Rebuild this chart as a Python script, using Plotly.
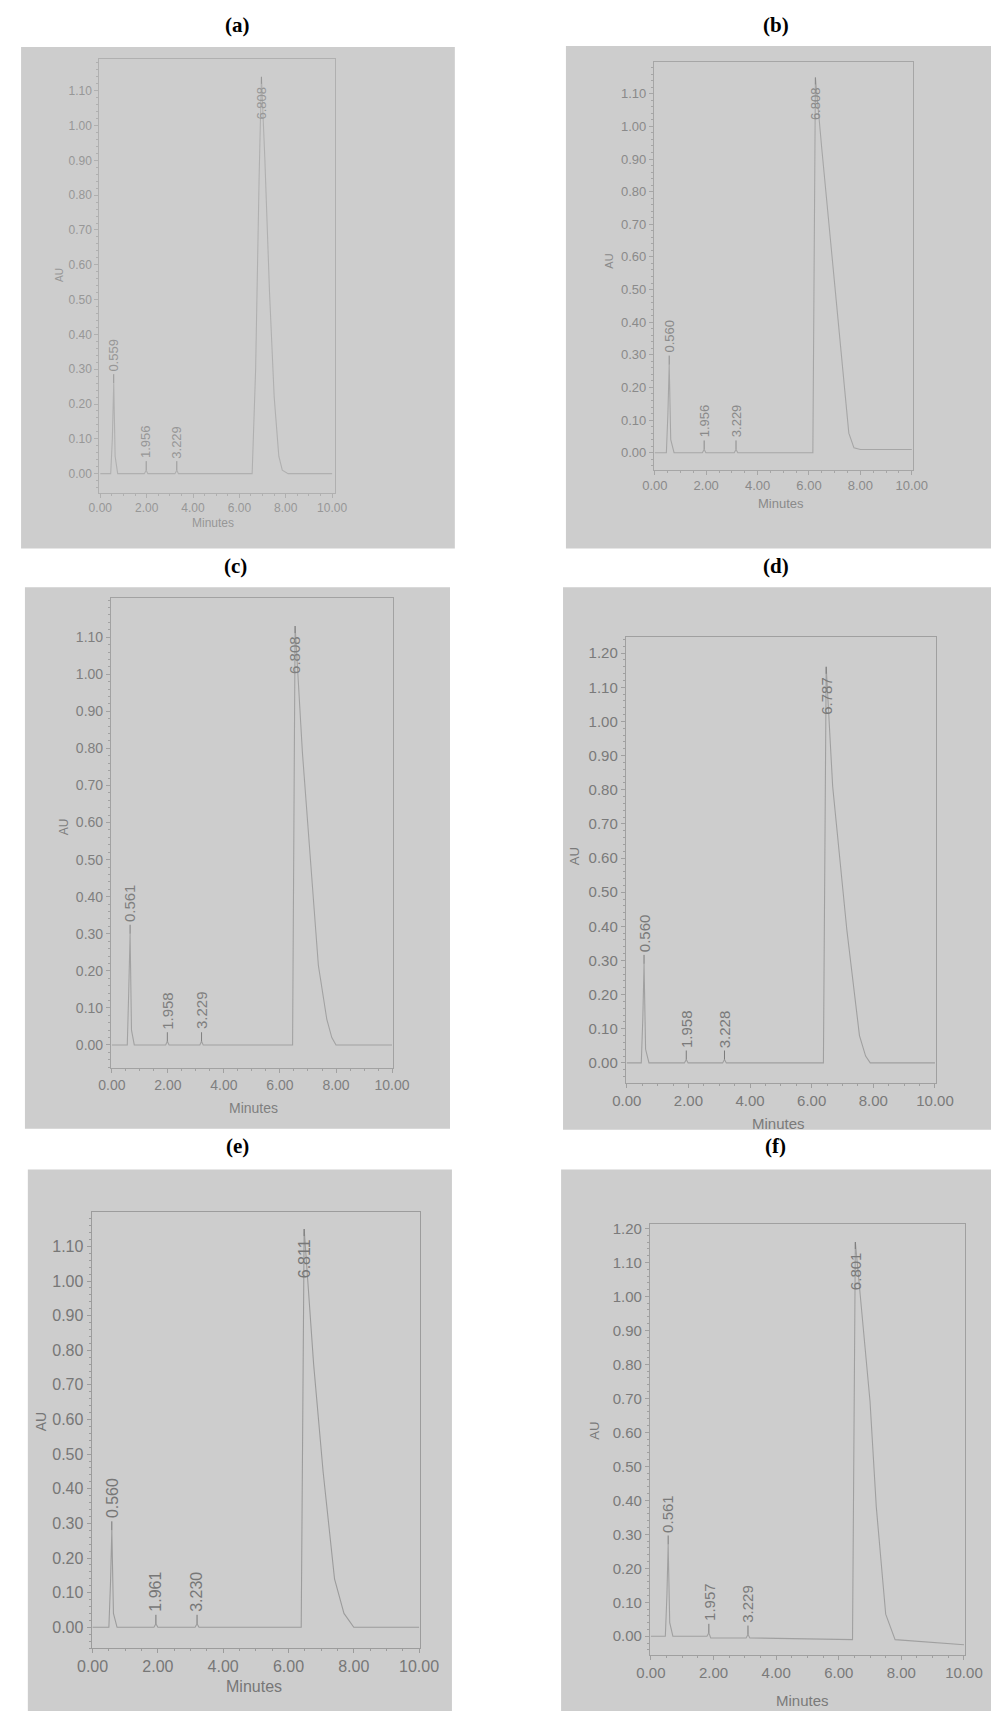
import plotly.graph_objects as go

# ---------------- data ----------------
panel_titles = ["(a)", "(b)", "(c)", "(d)", "(e)", "(f)"]

t_a = [0.00, 0.45, 0.52, 0.58, 0.64, 0.75, 1.90, 1.98, 2.05, 3.22, 3.30, 3.37, 6.55, 6.70, 6.85, 6.95, 7.10, 7.30, 7.50, 7.70, 7.85, 8.10, 10.00]
au_a = [0.00, 0.00, 0.10, 0.26, 0.05, 0.00, 0.00, 0.01, 0.00, 0.00, 0.01, 0.00, 0.00, 0.30, 0.85, 1.14, 0.90, 0.52, 0.22, 0.05, 0.01, 0.00, 0.00]

t_b = [0.00, 0.45, 0.51, 0.56, 0.62, 0.75, 1.85, 1.92, 1.99, 3.09, 3.16, 3.23, 6.15, 6.20, 6.25, 6.50, 6.90, 7.30, 7.55, 7.75, 8.00, 10.00]
au_b = [0.00, 0.00, 0.12, 0.27, 0.04, 0.00, 0.00, 0.01, 0.00, 0.00, 0.01, 0.00, 0.00, 0.60, 1.15, 0.93, 0.60, 0.25, 0.06, 0.015, 0.01, 0.01]

t_c = [0.00, 0.55, 0.60, 0.65, 0.70, 0.80, 1.92, 1.98, 2.04, 3.14, 3.20, 3.26, 6.45, 6.50, 6.54, 6.80, 7.10, 7.37, 7.67, 7.85, 8.00, 10.00]
au_c = [0.00, 0.00, 0.14, 0.30, 0.04, 0.00, 0.00, 0.01, 0.00, 0.00, 0.01, 0.00, 0.00, 0.60, 1.13, 0.79, 0.50, 0.215, 0.07, 0.02, 0.00, 0.00]

t_d = [0.00, 0.47, 0.52, 0.56, 0.61, 0.72, 1.87, 1.93, 1.99, 3.11, 3.17, 3.23, 6.38, 6.43, 6.47, 6.68, 7.14, 7.55, 7.75, 7.90, 10.00]
au_d = [0.00, 0.00, 0.13, 0.29, 0.04, 0.00, 0.00, 0.01, 0.00, 0.00, 0.01, 0.00, 0.00, 0.60, 1.16, 0.81, 0.39, 0.08, 0.02, 0.00, 0.00]

t_e = [0.00, 0.50, 0.55, 0.59, 0.64, 0.75, 1.88, 1.94, 2.00, 3.14, 3.20, 3.26, 6.39, 6.44, 6.48, 6.77, 7.06, 7.41, 7.70, 8.00, 10.00]
au_e = [0.00, 0.00, 0.13, 0.28, 0.04, 0.00, 0.00, 0.01, 0.00, 0.00, 0.01, 0.00, 0.00, 0.60, 1.15, 0.76, 0.45, 0.14, 0.04, 0.00, 0.00]

t_f = [0.00, 0.46, 0.51, 0.55, 0.60, 0.70, 1.79, 1.85, 1.91, 3.04, 3.10, 3.16, 6.44, 6.49, 6.53, 7.00, 7.20, 7.50, 7.80, 10.00]
au_f = [0.00, 0.00, 0.12, 0.27, 0.04, 0.00, 0.00, 0.01, -0.005, -0.005, 0.005, -0.005, -0.01, 0.60, 1.16, 0.69, 0.38, 0.065, -0.01, -0.025]

# peak retention-time labels and the apex time (as drawn) they sit on
labels_a = ["0.559", "1.956", "3.229", "6.808"]
apex_a = [0.58, 1.98, 3.30, 6.95]
labels_b = ["0.560", "1.956", "3.229", "6.808"]
apex_b = [0.56, 1.92, 3.16, 6.25]
labels_c = ["0.561", "1.958", "3.229", "6.808"]
apex_c = [0.65, 1.98, 3.20, 6.54]
labels_d = ["0.560", "1.958", "3.228", "6.787"]
apex_d = [0.56, 1.93, 3.17, 6.47]
labels_e = ["0.560", "1.961", "3.230", "6.811"]
apex_e = [0.59, 1.94, 3.20, 6.48]
labels_f = ["0.561", "1.957", "3.229", "6.801"]
apex_f = [0.55, 1.85, 3.10, 6.53]

x_ticks = [0, 2, 4, 6, 8, 10]
x_tick_text = ["0.00", "2.00", "4.00", "6.00", "8.00", "10.00"]
y_ticks_110 = [0.0, 0.1, 0.2, 0.3, 0.4, 0.5, 0.6, 0.7, 0.8, 0.9, 1.0, 1.1]
y_tick_text_110 = ["0.00", "0.10", "0.20", "0.30", "0.40", "0.50", "0.60", "0.70", "0.80", "0.90", "1.00", "1.10"]
y_ticks_120 = y_ticks_110 + [1.2]
y_tick_text_120 = y_tick_text_110 + ["1.20"]

series = [
    (t_a, au_a, labels_a, apex_a, y_ticks_110, y_tick_text_110),
    (t_b, au_b, labels_b, apex_b, y_ticks_110, y_tick_text_110),
    (t_c, au_c, labels_c, apex_c, y_ticks_110, y_tick_text_110),
    (t_d, au_d, labels_d, apex_d, y_ticks_120, y_tick_text_120),
    (t_e, au_e, labels_e, apex_e, y_ticks_110, y_tick_text_110),
    (t_f, au_f, labels_f, apex_f, y_ticks_120, y_tick_text_120),
]

# ---------------- layout geometry (page pixels) ----------------
W, H = 1002, 1711
OFF = 8  # default page margin around the plot div
geom = [
    dict(x0=88, x10=328, y0=470, yt=86, vt=1.1, L=87, R=331, T=54, B=489),
    dict(x0=662, x10=928, y0=449, yt=89, vt=1.1, L=661, R=929, T=57, B=466),
    dict(x0=100, x10=390, y0=1043, yt=634, vt=1.1, L=99, R=391, T=595, B=1066),
    dict(x0=633, x10=952, y0=1061, yt=650, vt=1.2, L=632, R=953, T=634, B=1081),
    dict(x0=80, x10=418, y0=1627, yt=1245, vt=1.1, L=79, R=419, T=1211, B=1648),
    dict(x0=658, x10=982, y0=1636, yt=1227, vt=1.2, L=657, R=983, T=1223, B=1655),
]
photo = [(6, 455, 42, 545), (570, 1010, 41, 545), (10, 450, 584, 1127),
         (567, 1010, 584, 1128), (13, 452, 1168, 1720), (565, 1010, 1168, 1720)]
title_pos = [(230, 20), (787, 20), (228, 563), (787, 563), (230, 1144), (787, 1144)]
au_pos = [(46, 271), (615, 257), (50, 824), (579, 854), (27, 1421), (600, 1430)]
min_pos = [(205, 519), (793, 500), (247, 1106), (790, 1122), (247, 1686), (815, 1700)]
tick_size = [12, 13, 14, 15, 16, 15]
lab_size = [13, 13, 15, 15, 16, 15]
title_size = [12, 13, 14, 15, 16, 15]
au_size = [10, 11, 12, 13, 14, 13]
text_col = ["#979797", "#8a8a8a", "#7f7f7f", "#7a7a7a", "#777777", "#7a7a7a"]
line_col = ["#b0b0b0", "#a6a6a6", "#a2a2a2", "#a0a0a0", "#9c9c9c", "#a0a0a0"]

px = lambda x: (x - OFF) / W
py = lambda y: 1 - (y - OFF) / H


def text_len(s, size):
    # approximate rendered length of a numeric label (Arial-like metrics)
    return sum(0.278 if ch == "." else 0.556 for ch in s) * size


fig = go.Figure()
shapes, annotations = [], []
layout = dict(width=W, height=H, margin=dict(l=0, r=0, t=0, b=0),
              paper_bgcolor="white", plot_bgcolor="#d6d6d6", showlegend=False,
              font=dict(family="Liberation Sans, Arial, sans-serif"))

for i, ((t, au, labs, apex, yt, ytt), g) in enumerate(zip(series, geom)):
    n = i + 1
    xs = "x" if n == 1 else f"x{n}"
    ys = "y" if n == 1 else f"y{n}"
    xa = "xaxis" if n == 1 else f"xaxis{n}"
    ya = "yaxis" if n == 1 else f"yaxis{n}"
    sx = (g["x10"] - g["x0"]) / 10.0
    sy = (g["y0"] - g["yt"]) / g["vt"]
    xr = [(g["L"] - g["x0"]) / sx, (g["R"] - g["x0"]) / sx]
    yr = [(g["y0"] - g["B"]) / sy, (g["y0"] - g["T"]) / sy]

    # photo background
    pl, pr, pt, pb = photo[i]
    shapes.append(dict(type="rect", xref="paper", yref="paper", x0=px(pl), x1=px(pr),
                       y0=py(pb), y1=py(pt), fillcolor="#cdcdcd", line=dict(width=0), layer="below"))

    fig.add_trace(go.Scatter(x=t, y=au, mode="lines", xaxis=xs, yaxis=ys,
                             line=dict(color=line_col[i], width=1.1), hoverinfo="skip"))

    axis_common = dict(showgrid=False, zeroline=False, showline=True, mirror=True,
                       linecolor=line_col[i], linewidth=1, ticks="outside", ticklen=4,
                       tickcolor=line_col[i], tickfont=dict(size=tick_size[i], color=text_col[i]))
    layout[xa] = dict(axis_common, domain=[px(g["L"]), px(g["R"])], range=xr, anchor=ys,
                      tickvals=x_ticks, ticktext=x_tick_text,
                      minor=dict(ticks="outside", ticklen=2, dtick=0.5, tickcolor=line_col[i]))
    layout[ya] = dict(axis_common, domain=[py(g["B"]), py(g["T"])], range=yr, anchor=xs,
                      tickvals=yt, ticktext=ytt,
                      minor=dict(ticks="outside", ticklen=2, dtick=0.02, tickcolor=line_col[i]))

    # peak labels (rotated text centred on the peak line) + short leader dash
    for k, (lab, tp) in enumerate(zip(labs, apex)):
        yv = au[t.index(tp)]
        main = (k == len(labs) - 1)
        L = text_len(lab, lab_size[i])
        dash = 9 if main else 11
        shift = -(dash + 1 + L / 2) if main else (dash + 1 + L / 2)
        annotations.append(dict(x=tp, y=yv, xref=xs, yref=ys, text=lab, textangle=-90,
                                showarrow=False, xanchor="center", yanchor="middle",
                                yshift=shift, font=dict(size=lab_size[i], color=text_col[i])))
        annotations.append(dict(x=tp, y=yv, xref=xs, yref=ys, text=" ", showarrow=True,
                                arrowhead=0, arrowwidth=1, arrowcolor=text_col[i],
                                ax=0, ay=(dash if main else -dash), font=dict(size=1)))

    # panel title
    tx, ty = title_pos[i]
    annotations.append(dict(x=px(tx), y=py(ty), xref="paper", yref="paper", text="<b>" + panel_titles[i] + "</b>",
                            showarrow=False, xanchor="center", yanchor="middle",
                            font=dict(family="Liberation Serif, Times New Roman, serif", size=21, color="black")))
    # axis titles
    ax_, ay_ = au_pos[i]
    annotations.append(dict(x=px(ax_), y=py(ay_), xref="paper", yref="paper", text="AU", textangle=-90,
                            showarrow=False, xanchor="center", yanchor="middle",
                            font=dict(size=au_size[i], color=text_col[i])))
    mx, my = min_pos[i]
    annotations.append(dict(x=px(mx), y=py(my), xref="paper", yref="paper", text="Minutes",
                            showarrow=False, xanchor="center", yanchor="middle",
                            font=dict(size=title_size[i], color=text_col[i])))

layout["shapes"] = shapes
layout["annotations"] = annotations
fig.update_layout(**layout)
fig.write_html("out.html")
